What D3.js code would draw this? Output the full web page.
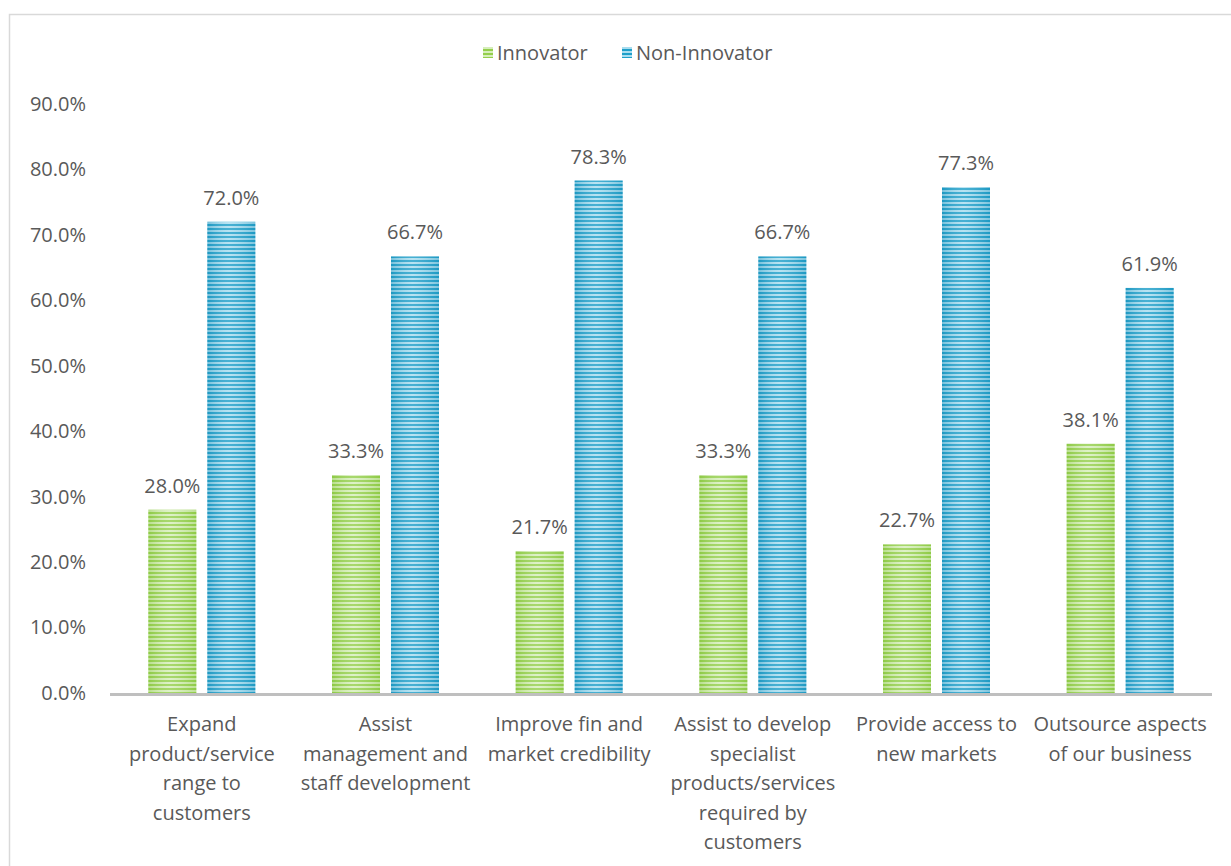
<!DOCTYPE html>
<html>
<head>
<meta charset="utf-8">
<script src="https://cdn.jsdelivr.net/npm/d3@7/dist/d3.min.js"></script>
<style>
  html, body { margin: 0; padding: 0; background: #fff; }
  svg { display: block; }
  text { font-family: "Open Sans", "Noto Sans", sans-serif; fill: #595959; }
</style>
</head>
<body>
<svg id="chart" width="1231" height="866"></svg>
<script>
// Survey categories (line breaks mark how each label wraps)
const categories = [
  "Expand\nproduct/service\nrange to\ncustomers",
  "Assist\nmanagement and\nstaff development",
  "Improve fin and\nmarket credibility",
  "Assist to develop\nspecialist\nproducts/services\nrequired by\ncustomers",
  "Provide access to\nnew markets",
  "Outsource aspects\nof our business"
];
const seriesNames = ["Innovator", "Non-Innovator"];
const innovator    = [28.0, 33.3, 21.7, 33.3, 22.7, 38.1];
const nonInnovator = [72.0, 66.7, 78.3, 66.7, 77.3, 61.9];
const yTicks = [0, 10, 20, 30, 40, 50, 60, 70, 80, 90];

const svg = d3.select("#chart");
const W = 1231, H = 866;
const margin = { left: 110, right: 19, top: 104, bottom: 173 };
const plotW = W - margin.left - margin.right;
const plotH = H - margin.top - margin.bottom;
const FONT = "20px";

// stripe patterns with a soft horizontal sheen
const defs = svg.append("defs");
function stripes(id, dark, light, edge) {
  const p = defs.append("pattern")
    .attr("id", id).attr("patternUnits", "userSpaceOnUse")
    .attr("width", 8).attr("height", 4);
  p.append("rect").attr("width", 8).attr("height", 4).attr("fill", light);
  p.append("rect").attr("y", 0).attr("width", 8).attr("height", 2).attr("fill", dark);
  const g = defs.append("linearGradient").attr("id", id + "-sheen")
    .attr("x1", 0).attr("x2", 1).attr("y1", 0).attr("y2", 0);
  g.append("stop").attr("offset", 0).attr("stop-color", edge).attr("stop-opacity", 0.35);
  g.append("stop").attr("offset", 0.45).attr("stop-color", "#ffffff").attr("stop-opacity", 0.18);
  g.append("stop").attr("offset", 1).attr("stop-color", edge).attr("stop-opacity", 0.3);
}
stripes("pat-green", "#94cf4c", "#d6eebb", "#7fbf35");
stripes("pat-blue", "#1f9fc9", "#a9ddef", "#1689b3");
const fills = ["pat-green", "pat-blue"];

// outer frame
svg.append("rect")
  .attr("x", 9.5).attr("y", 14.5).attr("width", W).attr("height", H)
  .attr("fill", "none").attr("stroke", "#d9d9d9").attr("stroke-width", 1.5);

const g = svg.append("g").attr("transform", `translate(${margin.left},${margin.top})`);

const x0 = d3.scaleBand().domain(d3.range(categories.length)).range([0, plotW]).paddingInner(0).paddingOuter(0);
const y = d3.scaleLinear().domain([0, 90]).range([plotH, 0]);

const barW = 48, gap = 11;
const x1 = d3.scaleOrdinal().domain([0, 1]).range([-(barW + gap / 2), gap / 2]);

// y axis tick labels
const yAxis = d3.axisLeft(y).tickValues(yTicks).tickSize(0).tickPadding(0)
  .tickFormat(d => d.toFixed(1) + "%");
const ya = g.append("g").attr("transform", "translate(-24,0)").call(yAxis);
ya.select(".domain").remove();
ya.selectAll("text").style("font-size", FONT).attr("fill", "#595959")
  .style("font-family", "'Open Sans', sans-serif");

// bars
const data = categories.map((c, i) => [innovator[i], nonInnovator[i]]);
const groups = g.selectAll(".grp").data(data).join("g")
  .attr("transform", (d, i) => `translate(${x0(i) + x0.bandwidth() / 2},0)`);

groups.selectAll("rect.bar").data(d => d.map((v, s) => ({ v, s }))).join("rect")
  .attr("class", "bar")
  .attr("x", d => x1(d.s)).attr("width", barW)
  .attr("y", d => y(d.v)).attr("height", d => plotH - y(d.v))
  .attr("fill", d => `url(#${fills[d.s]})`);
groups.selectAll("rect.sheen").data(d => d.map((v, s) => ({ v, s }))).join("rect")
  .attr("class", "sheen")
  .attr("x", d => x1(d.s)).attr("width", barW)
  .attr("y", d => y(d.v)).attr("height", d => plotH - y(d.v))
  .attr("fill", d => `url(#${fills[d.s]}-sheen)`);

// value labels
groups.selectAll("text.val").data(d => d.map((v, s) => ({ v, s }))).join("text")
  .attr("class", "val")
  .attr("x", d => x1(d.s) + barW / 2)
  .attr("y", d => y(d.v) - 17)
  .attr("text-anchor", "middle")
  .style("font-size", FONT)
  .text(d => d.v.toFixed(1) + "%");

// x axis line
g.append("line")
  .attr("x1", 0).attr("x2", plotW).attr("y1", plotH + 1.5).attr("y2", plotH + 1.5)
  .attr("stroke", "#bfbfbf").attr("stroke-width", 3);

// category labels
const xl = g.selectAll(".xl").data(categories).join("text")
  .attr("class", "xl")
  .attr("text-anchor", "middle")
  .attr("x", (d, i) => x0(i) + x0.bandwidth() / 2)
  .attr("y", plotH + 38)
  .style("font-size", FONT);
xl.each(function (d) {
  const t = d3.select(this);
  d.split("\n").forEach((line, k) => {
    t.append("tspan")
      .attr("x", t.attr("x"))
      .attr("dy", k === 0 ? 0 : 29.5)
      .text(line);
  });
});

// legend
const legend = svg.append("g").attr("transform", "translate(483,53)");
const legendX = [0, 139];
seriesNames.forEach((name, i) => {
  const lg = legend.append("g").attr("transform", `translate(${legendX[i]},0)`);
  lg.append("rect").attr("x", 0).attr("y", -6).attr("width", 10).attr("height", 11)
    .attr("fill", `url(#${fills[i]})`);
  lg.append("text").attr("x", 14).attr("y", 0).attr("dy", "0.35em")
    .style("font-size", FONT).text(name);
});
</script>
</body>
</html>
